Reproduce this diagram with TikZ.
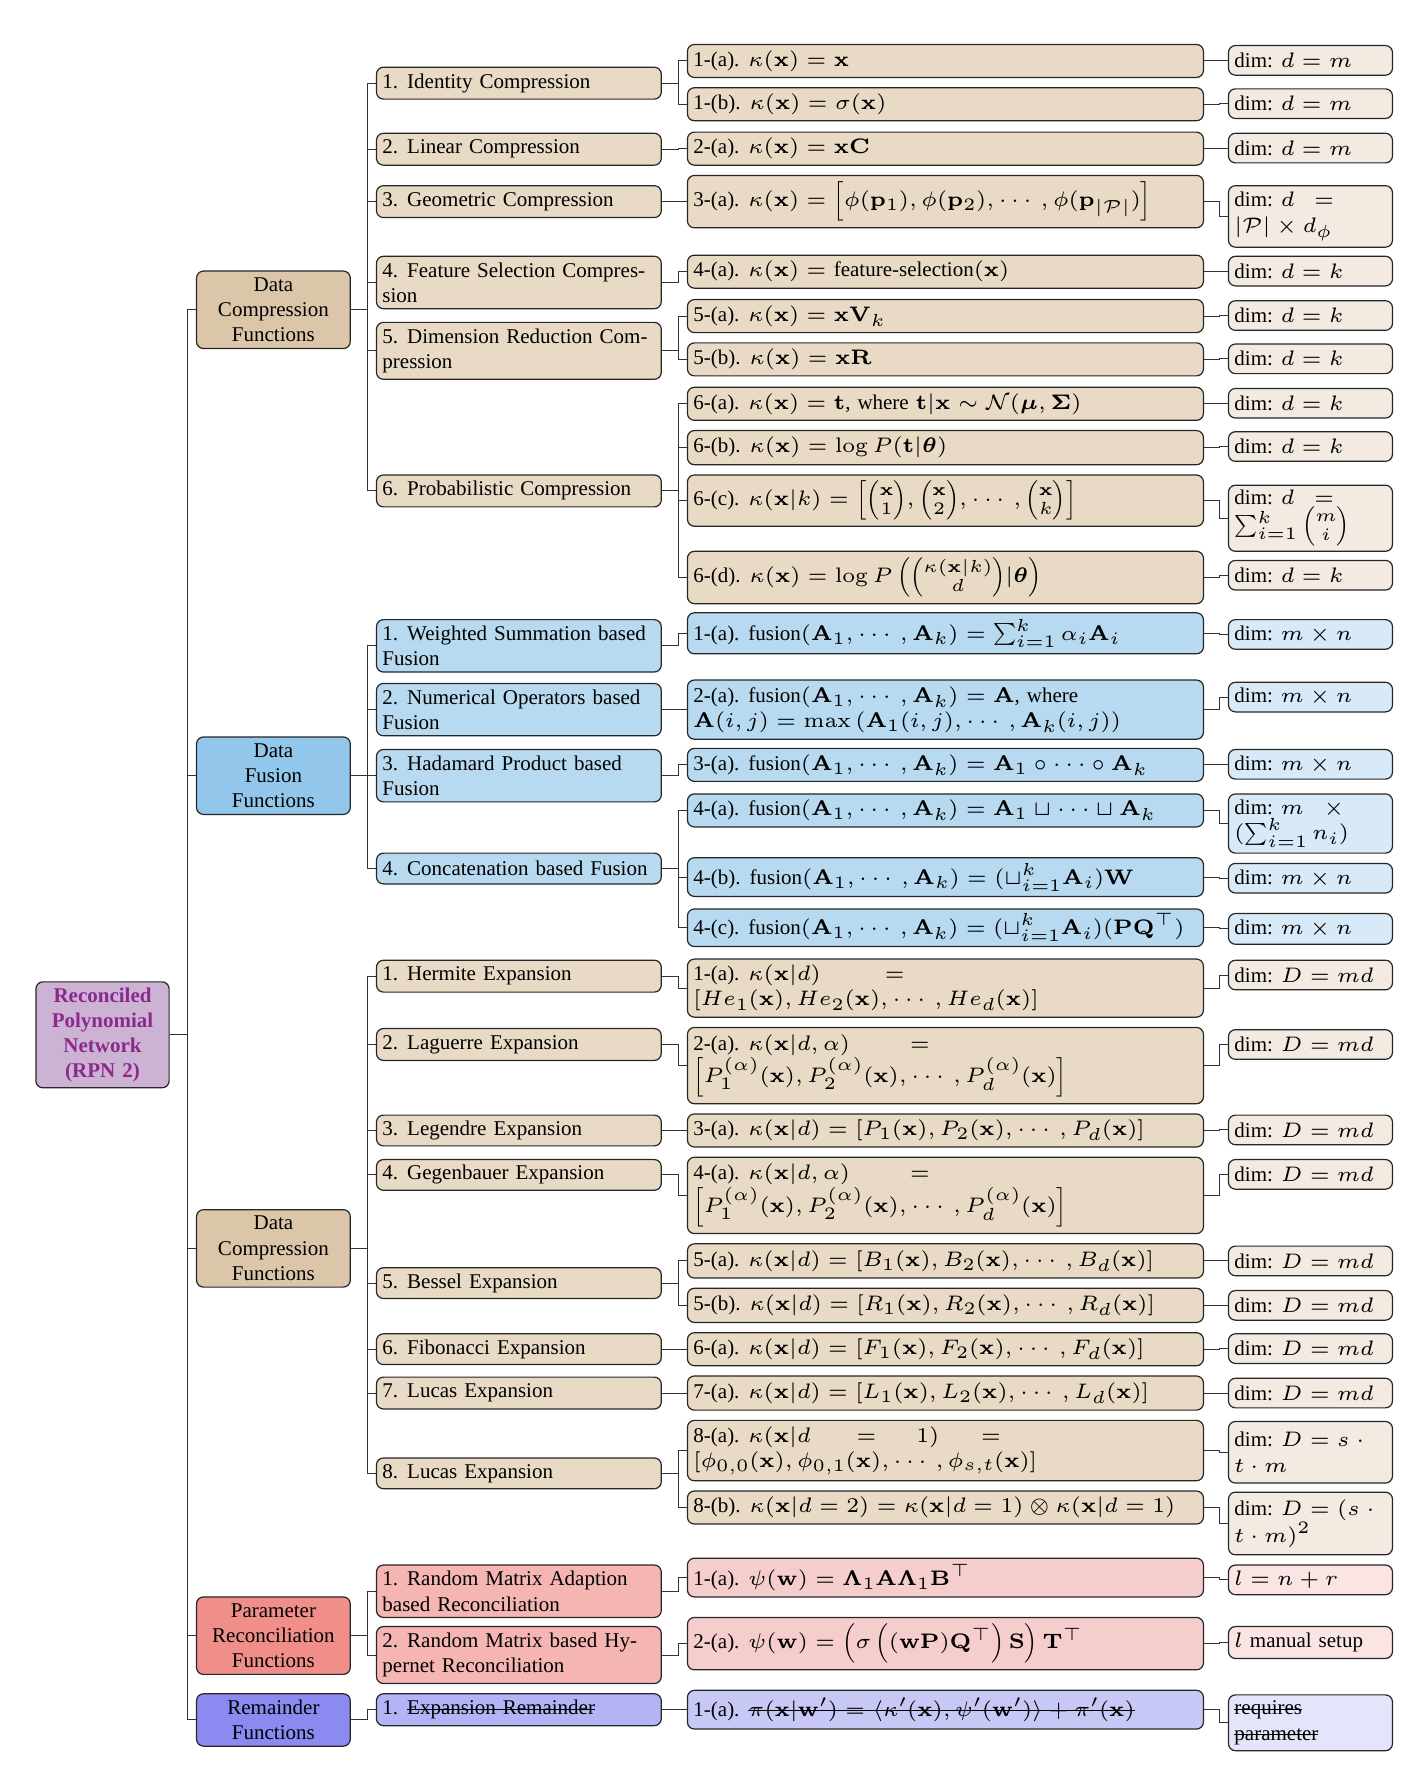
\documentclass[tikz,border=0pt]{standalone}
\usepackage{amsmath}
\usepackage[no-math]{fontspec}
\setmainfont{Liberation Serif}
% math set with small optical sizes (6pt / 5pt designs), as in the reference
\DeclareFontShape{OML}{cmm}{m}{it}{<-9> cmmi5 <9-> cmmi6}{}
\DeclareFontShape{OT1}{cmr}{m}{n}{<-9> cmr5 <9-> cmr6}{}
\DeclareFontShape{OMS}{cmsy}{m}{n}{<-9> cmsy5 <9-> cmsy6}{}
\DeclareFontShape{OT1}{cmr}{bx}{n}{<-9> cmbx5 <9-> cmbx6}{}
\DeclareFontShape{OML}{cmm}{b}{it}{<-9> cmmib5 <9-> cmmib6}{}
\DeclareFontShape{OMS}{cmsy}{b}{n}{<-9> cmbsy5 <9-> cmbsy6}{}
\DeclareMathSizes{10.5}{10.5}{8.75}{8.75}
\definecolor{rootc}{HTML}{CCB3D4}
\definecolor{roott}{HTML}{8C2A8C}
\definecolor{cA1}{HTML}{DCC6AA}
\definecolor{cA2}{HTML}{E8DAC5}
\definecolor{cA4}{HTML}{F3EBE1}
\definecolor{cB1}{HTML}{92C7EB}
\definecolor{cB2}{HTML}{B7DAF0}
\definecolor{cB4}{HTML}{D8EAF7}
\definecolor{cD1}{HTML}{F08E8A}
\definecolor{cD2}{HTML}{F4B5B3}
\definecolor{cD3}{HTML}{F6CDCD}
\definecolor{cD4}{HTML}{FAE4E4}
\definecolor{cF1}{HTML}{8A8AF0}
\definecolor{cF2}{HTML}{B3B3F5}
\definecolor{cF3}{HTML}{C8C8F7}
\definecolor{cF4}{HTML}{E4E4FA}
\newsavebox\stbox
\newcommand\strike[1]{\leavevmode\sbox\stbox{#1}\rlap{\rule[0.25em]{\wd\stbox}{0.5pt}}\usebox\stbox}
\newcommand\lbl[1]{#1\hspace{4.5pt}}
\newcommand\bx{\mathbf{x}}
\newcommand\bA{\mathbf{A}}
\newcommand\fus{\text{fusion}(\bA_1,\cdots,\bA_k)}
\newcommand\jl[1]{\makebox[\hsize][s]{#1}}
\newcommand\nd[6]{\node[#2, anchor=west, minimum height={(#5-#4)*0.5695pt}] (#1) at (#3,{(#4+#5)/2}) {#6};}
\newcommand\ed[2]{\foreach \c in {#2}{\draw[edge] (#1.east) -| ([xshift=-4pt]\c.west) -- (\c.west);}}
\tikzset{
 base/.style={draw=black!85, line width=0.6pt, rounded corners=3.5pt, inner xsep=3pt, inner ysep=1pt, font=\fontsize{10.5}{12.6}\selectfont},
 root/.style={base, fill=rootc, text width=60.6pt, align=center, font=\fontsize{10.5}{12.6}\selectfont\bfseries, text=roott},
 lone/.style={base, text width=70.9pt, align=center},
 ltwo/.style={base, text width=136.4pt, align=left},
 lthree/.style={base, text width=252pt, align=left},
 lfour/.style={base, text width=76pt, align=left},
 edge/.style={draw=black!80, line width=0.5pt},
}
\begin{document}
\begin{tikzpicture}[x=0.5695pt,y=-0.5695pt]
\useasboundingbox (0,0) rectangle (1252,1568);
% root
\nd{R}{root}{31}{862}{955}{Reconciled\\Polynomial\\Network\\(RPN 2)}
% level 1
\nd{A}{lone,fill=cA1}{172}{238}{306}{Data\\Compression\\Functions}
\nd{B}{lone,fill=cB1}{172}{647}{715}{Data\\Fusion\\Functions}
\nd{C}{lone,fill=cA1}{172}{1062}{1130}{Data\\Compression\\Functions}
\nd{D}{lone,fill=cD1}{172}{1402}{1470}{Parameter\\Reconciliation\\Functions}
\nd{F}{lone,fill=cF1}{172}{1487}{1533}{Remainder\\Functions}
% level 2
\nd{A1}{ltwo,fill=cA2}{330}{59}{87}{\lbl{1.}Identity Compression}
\nd{A2}{ltwo,fill=cA2}{330}{117}{145}{\lbl{2.}Linear Compression}
\nd{A3}{ltwo,fill=cA2}{330}{163}{191}{\lbl{3.}Geometric Compression}
\nd{A4}{ltwo,fill=cA2}{330}{225}{271}{\jl{\lbl{4.}Feature Selection Compres-}\\sion}
\nd{A5}{ltwo,fill=cA2}{330}{283}{333}{\jl{\lbl{5.}Dimension Reduction Com-}\\pression}
\nd{A6}{ltwo,fill=cA2}{330}{417}{445}{\lbl{6.}Probabilistic Compression}
\nd{B1}{ltwo,fill=cB2}{330}{544}{590}{\jl{\lbl{1.}Weighted Summation based}\\Fusion}
\nd{B2}{ltwo,fill=cB2}{330}{600}{646}{\jl{\lbl{2.}Numerical Operators based}\\Fusion}
\nd{B3}{ltwo,fill=cB2}{330}{658}{704}{\lbl{3.}Hadamard Product based\\Fusion}
\nd{B4}{ltwo,fill=cB2}{330}{749}{776}{\lbl{4.}Concatenation based Fusion}
\nd{C1}{ltwo,fill=cA2}{330}{843}{871}{\lbl{1.}Hermite Expansion}
\nd{C2}{ltwo,fill=cA2}{330}{903}{931}{\lbl{2.}Laguerre Expansion}
\nd{C3}{ltwo,fill=cA2}{330}{979}{1006}{\lbl{3.}Legendre Expansion}
\nd{C4}{ltwo,fill=cA2}{330}{1018}{1045}{\lbl{4.}Gegenbauer Expansion}
\nd{C5}{ltwo,fill=cA2}{330}{1113}{1140}{\lbl{5.}Bessel Expansion}
\nd{C6}{ltwo,fill=cA2}{330}{1171}{1198}{\lbl{6.}Fibonacci Expansion}
\nd{C7}{ltwo,fill=cA2}{330}{1209}{1237}{\lbl{7.}Lucas Expansion}
\nd{C8}{ltwo,fill=cA2}{330}{1280}{1307}{\lbl{8.}Lucas Expansion}
\nd{D1}{ltwo,fill=cD2}{330}{1374}{1420}{\lbl{1.}Random Matrix Adaption\\based Reconciliation}
\nd{D2}{ltwo,fill=cD2}{330}{1428}{1478}{\jl{\lbl{2.}Random Matrix based Hy-}\\pernet Reconciliation}
\nd{F1}{ltwo,fill=cF2}{330}{1487}{1515}{\lbl{1.}\strike{Expansion Remainder}}
% level 3
\nd{A1a}{lthree,fill=cA2}{603}{39}{68}{\lbl{1-(a).}$\kappa(\bx) = \bx$}
\nd{A1b}{lthree,fill=cA2}{603}{77}{106}{\lbl{1-(b).}$\kappa(\bx) = \sigma(\bx)$}
\nd{A2a}{lthree,fill=cA2}{603}{116}{145}{\lbl{2-(a).}$\kappa(\bx) = \bx\mathbf{C}$}
\nd{A3a}{lthree,fill=cA2}{603}{154}{200}{\lbl{3-(a).}$\kappa(\bx) = \left[\phi(\mathbf{p}_1), \phi(\mathbf{p}_2), \cdots, \phi(\mathbf{p}_{|\mathcal{P}|})\right]$}
\nd{A4a}{lthree,fill=cA2}{603}{224}{253}{\lbl{4-(a).}$\kappa(\bx) = \text{feature-selection}(\bx)$}
\nd{A5a}{lthree,fill=cA2}{603}{263}{292}{\lbl{5-(a).}$\kappa(\bx) = \bx\mathbf{V}_k$}
\nd{A5b}{lthree,fill=cA2}{603}{301}{330}{\lbl{5-(b).}$\kappa(\bx) = \bx\mathbf{R}$}
\nd{A6a}{lthree,fill=cA2}{603}{340}{369}{\lbl{6-(a).}$\kappa(\bx) = \mathbf{t}$, where $\mathbf{t}|\bx \sim \mathcal{N}(\boldsymbol{\mu}, \boldsymbol{\Sigma})$}
\nd{A6b}{lthree,fill=cA2}{603}{378}{408}{\lbl{6-(b).}$\kappa(\bx) = \log P(\mathbf{t}|\boldsymbol{\theta})$}
\nd{A6c}{lthree,fill=cA2}{603}{417}{462}{\lbl{6-(c).}$\kappa(\bx|k) = \left[\binom{\bx}{1}, \binom{\bx}{2}, \cdots, \binom{\bx}{k}\right]$}
\nd{A6d}{lthree,fill=cA2}{603}{484}{530}{\lbl{6-(d).}$\kappa(\bx) = \log P\left(\binom{\kappa(\bx|k)}{d}|\boldsymbol{\theta}\right)$}
\nd{B1a}{lthree,fill=cB2}{603}{538}{574}{\lbl{1-(a).}$\fus = \sum_{i=1}^k \alpha_i \bA_i$}
\nd{B2a}{lthree,fill=cB2}{603}{597}{649}{\lbl{2-(a).}$\fus = \bA$, where\\$\bA(i,j) = \max\left(\bA_1(i,j), \cdots, \bA_k(i,j)\right)$}
\nd{B3a}{lthree,fill=cB2}{603}{657}{686}{\lbl{3-(a).}$\fus = \bA_1 \circ \cdots \circ \bA_k$}
\nd{B4a}{lthree,fill=cB2}{603}{697}{726}{\lbl{4-(a).}$\fus = \bA_1 \sqcup \cdots \sqcup \bA_k$}
\nd{B4b}{lthree,fill=cB2}{603}{753}{787}{\lbl{4-(b).}$\fus = (\sqcup_{i=1}^k \bA_i)\mathbf{W}$}
\nd{B4c}{lthree,fill=cB2}{603}{798}{831}{\lbl{4-(c).}$\fus = (\sqcup_{i=1}^k \bA_i)(\mathbf{P}\mathbf{Q}^\top)$}
\nd{C1a}{lthree,fill=cA2}{603}{842}{893}{\lbl{1-(a).}$\kappa(\bx|d)$\hspace{32pt}$=$\\$[He_1(\bx), He_2(\bx), \cdots, He_d(\bx)]$}
\nd{C2a}{lthree,fill=cA2}{603}{902}{969}{\lbl{2-(a).}$\kappa(\bx|d,\alpha)$\hspace{30pt}$=$\\$\left[P_1^{(\alpha)}(\bx), P_2^{(\alpha)}(\bx), \cdots, P_d^{(\alpha)}(\bx)\right]$}
\nd{C3a}{lthree,fill=cA2}{603}{978}{1007}{\lbl{3-(a).}$\kappa(\bx|d) = [P_1(\bx), P_2(\bx), \cdots, P_d(\bx)]$}
\nd{C4a}{lthree,fill=cA2}{603}{1016}{1083}{\lbl{4-(a).}$\kappa(\bx|d,\alpha)$\hspace{30pt}$=$\\$\left[P_1^{(\alpha)}(\bx), P_2^{(\alpha)}(\bx), \cdots, P_d^{(\alpha)}(\bx)\right]$}
\nd{C5a}{lthree,fill=cA2}{603}{1092}{1122}{\lbl{5-(a).}$\kappa(\bx|d) = [B_1(\bx), B_2(\bx), \cdots, B_d(\bx)]$}
\nd{C5b}{lthree,fill=cA2}{603}{1131}{1161}{\lbl{5-(b).}$\kappa(\bx|d) = [R_1(\bx), R_2(\bx), \cdots, R_d(\bx)]$}
\nd{C6a}{lthree,fill=cA2}{603}{1170}{1199}{\lbl{6-(a).}$\kappa(\bx|d) = [F_1(\bx), F_2(\bx), \cdots, F_d(\bx)]$}
\nd{C7a}{lthree,fill=cA2}{603}{1208}{1238}{\lbl{7-(a).}$\kappa(\bx|d) = [L_1(\bx), L_2(\bx), \cdots, L_d(\bx)]$}
\nd{C8a}{lthree,fill=cA2}{603}{1247}{1300}{\lbl{8-(a).}$\kappa(\bx|d$\hspace{23pt}$=$\hspace{20pt}$1)$\hspace{21pt}$=$\\$[\phi_{0,0}(\bx), \phi_{0,1}(\bx), \cdots, \phi_{s,t}(\bx)]$}
\nd{C8b}{lthree,fill=cA2}{603}{1309}{1338}{\lbl{8-(b).}$\kappa(\bx|d=2) = \kappa(\bx|d=1) \otimes \kappa(\bx|d=1)$}
\nd{D1a}{lthree,fill=cD3}{603}{1368}{1402}{\lbl{1-(a).}$\psi(\mathbf{w}) = \boldsymbol{\Lambda}_1 \mathbf{A} \boldsymbol{\Lambda}_1 \mathbf{B}^\top$}
\nd{D2a}{lthree,fill=cD3}{603}{1420}{1466}{\lbl{2-(a).}$\psi(\mathbf{w}) = \left(\sigma\left((\mathbf{w}\mathbf{P})\mathbf{Q}^\top\right)\mathbf{S}\right)\mathbf{T}^\top$}
\nd{F1a}{lthree,fill=cF3}{603}{1484}{1518}{\lbl{1-(a).}\strike{$\pi(\bx|\mathbf{w}') = \langle \kappa'(\bx), \psi'(\mathbf{w}')\rangle + \pi'(\bx)$}}
% level 4
\nd{A1ad}{lfour,fill=cA4}{1078}{40}{66}{dim:\hspace{4pt}$d = m$}
\nd{A1bd}{lfour,fill=cA4}{1078}{78}{104}{dim:\hspace{4pt}$d = m$}
\nd{A2ad}{lfour,fill=cA4}{1078}{117}{143}{dim:\hspace{4pt}$d = m$}
\nd{A3ad}{lfour,fill=cA4}{1078}{163}{217}{dim:\hspace{4pt}$d$\hspace{10pt}$=$\\$|\mathcal{P}| \times d_\phi$}
\nd{A4ad}{lfour,fill=cA4}{1078}{225}{251}{dim:\hspace{4pt}$d = k$}
\nd{A5ad}{lfour,fill=cA4}{1078}{264}{290}{dim:\hspace{4pt}$d = k$}
\nd{A5bd}{lfour,fill=cA4}{1078}{302}{328}{dim:\hspace{4pt}$d = k$}
\nd{A6ad}{lfour,fill=cA4}{1078}{341}{367}{dim:\hspace{4pt}$d = k$}
\nd{A6bd}{lfour,fill=cA4}{1078}{379}{405}{dim:\hspace{4pt}$d = k$}
\nd{A6cd}{lfour,fill=cA4}{1078}{426}{484}{dim:\hspace{4pt}$d$\hspace{10pt}$=$\\$\sum_{i=1}^k \binom{m}{i}$}
\nd{A6dd}{lfour,fill=cA4}{1078}{492}{518}{dim:\hspace{4pt}$d = k$}
\nd{B1ad}{lfour,fill=cB4}{1078}{544}{570}{dim:\hspace{4pt}$m \times n$}
\nd{B2ad}{lfour,fill=cB4}{1078}{599}{625}{dim:\hspace{4pt}$m \times n$}
\nd{B3ad}{lfour,fill=cB4}{1078}{658}{684}{dim:\hspace{4pt}$m \times n$}
\nd{B4ad}{lfour,fill=cB4}{1078}{697}{749}{dim:\hspace{4pt}$m$\hspace{10pt}$\times$\\$(\sum_{i=1}^k n_i)$}
\nd{B4bd}{lfour,fill=cB4}{1078}{758}{784}{dim:\hspace{4pt}$m \times n$}
\nd{B4cd}{lfour,fill=cB4}{1078}{802}{829}{dim:\hspace{4pt}$m \times n$}
\nd{C1ad}{lfour,fill=cA4}{1078}{843}{869}{dim:\hspace{4pt}$D = md$}
\nd{C2ad}{lfour,fill=cA4}{1078}{904}{930}{dim:\hspace{4pt}$D = md$}
\nd{C3ad}{lfour,fill=cA4}{1078}{979}{1005}{dim:\hspace{4pt}$D = md$}
\nd{C4ad}{lfour,fill=cA4}{1078}{1018}{1044}{dim:\hspace{4pt}$D = md$}
\nd{C5ad}{lfour,fill=cA4}{1078}{1094}{1120}{dim:\hspace{4pt}$D = md$}
\nd{C5bd}{lfour,fill=cA4}{1078}{1133}{1159}{dim:\hspace{4pt}$D = md$}
\nd{C6ad}{lfour,fill=cA4}{1078}{1171}{1197}{dim:\hspace{4pt}$D = md$}
\nd{C7ad}{lfour,fill=cA4}{1078}{1210}{1236}{dim:\hspace{4pt}$D = md$}
\nd{C8ad}{lfour,fill=cA4}{1078}{1248}{1302}{dim:\hspace{4pt}$D = s$ $\cdot$\\$t \cdot m$}
\nd{C8bd}{lfour,fill=cA4}{1078}{1310}{1365}{dim:\hspace{4pt}$D = (s$ $\cdot$\\$t \cdot m)^2$}
\nd{D1ad}{lfour,fill=cD4}{1078}{1374}{1400}{$l = n + r$}
\nd{D2ad}{lfour,fill=cD4}{1078}{1428}{1456}{$l$ manual setup}
\nd{F1ad}{lfour,fill=cF4}{1078}{1488}{1537}{\strike{requires}\\\strike{parameter}}
% edges
\ed{R}{A,B,C,D,F}
\ed{A}{A1,A2,A3,A4,A5,A6}
\ed{B}{B1,B2,B3,B4}
\ed{C}{C1,C2,C3,C4,C5,C6,C7,C8}
\ed{D}{D1,D2}
\ed{F}{F1}
\ed{A1}{A1a,A1b}
\ed{A2}{A2a}
\ed{A3}{A3a}
\ed{A4}{A4a}
\ed{A5}{A5a,A5b}
\ed{A6}{A6a,A6b,A6c,A6d}
\ed{B1}{B1a}
\ed{B2}{B2a}
\ed{B3}{B3a}
\ed{B4}{B4a,B4b,B4c}
\ed{C1}{C1a}
\ed{C2}{C2a}
\ed{C3}{C3a}
\ed{C4}{C4a}
\ed{C5}{C5a,C5b}
\ed{C6}{C6a}
\ed{C7}{C7a}
\ed{C8}{C8a,C8b}
\ed{D1}{D1a}
\ed{D2}{D2a}
\ed{F1}{F1a}
\foreach \n in {A1a,A1b,A2a,A3a,A4a,A5a,A5b,A6a,A6b,A6c,A6d,B1a,B2a,B3a,B4a,B4b,B4c,C1a,C2a,C3a,C4a,C5a,C5b,C6a,C7a,C8a,C8b,D1a,D2a,F1a}{\ed{\n}{\n d}}
\end{tikzpicture}
\end{document}
